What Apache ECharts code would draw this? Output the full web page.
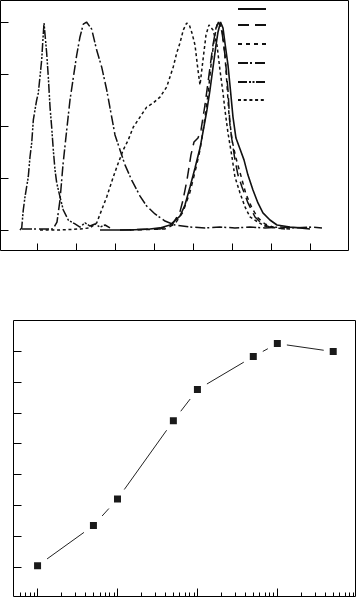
<!DOCTYPE html>
<html><head><meta charset="utf-8">
<script src="https://cdn.jsdelivr.net/npm/echarts@6/dist/echarts.min.js"></script>
<style>html,body{margin:0;padding:0;background:#fff}#c{width:357px;height:598px}</style>
</head><body><div id="c"></div>
<script>
// ---------- Top panel: normalized spectra (x = wavelength, y = normalized intensity) ----------
const specTicksX = [350, 400, 450, 500, 550, 600, 650, 700];
const specTicksY = [0, 0.25, 0.5, 0.75, 1];
const seriesNames = ['S1', 'S2', 'S3', 'S4', 'S5', 'S6'];

// solid
const curveSolid = [[430.8,0],[469.2,0],[494.9,0.005],[507.7,0.010],[520.5,0.024],[533.3,0.067],[539.7,0.120],[546.2,0.207],[552.6,0.298],[559.0,0.394],[562.8,0.471],[567.9,0.577],[571.8,0.673],[575.6,0.779],[579.5,0.889],[582.1,0.952],[585.3,1.0],[588.5,0.971],[591.0,0.899],[594.9,0.793],[597.4,0.697],[601.3,0.543],[605.1,0.442],[610.3,0.389],[615.4,0.337],[620.5,0.264],[626.9,0.192],[633.3,0.130],[639.7,0.082],[648.7,0.048],[657.7,0.024],[674.4,0.014],[687.2,0.010],[700.0,0.005]];
// long dash
const curveLongDash = [[456.4,0],[507.7,0.005],[523.1,0.024],[533.3,0.087],[537.2,0.144],[542.3,0.240],[547.4,0.361],[551.3,0.423],[556.4,0.442],[560.3,0.481],[565.4,0.601],[570.5,0.745],[575.6,0.889],[579.5,0.971],[582.7,1.0],[587.2,0.952],[591.0,0.841],[594.9,0.673],[597.4,0.505],[600.0,0.433],[603.8,0.337],[607.7,0.264],[612.8,0.207],[620.5,0.130],[629.5,0.0625],[638.5,0.029],[648.7,0.014],[667.9,0.005]];
// short dash
const curveShortDash = [[469.2,0],[514.1,0.005],[526.9,0.029],[537.2,0.087],[546.2,0.183],[553.8,0.298],[559.0,0.385],[564.1,0.505],[569.2,0.649],[573.1,0.793],[577.0,0.913],[580.8,0.986],[584.0,1.0],[587.2,0.962],[591.0,0.841],[593.6,0.697],[596.2,0.553],[600.0,0.433],[605.1,0.346],[611.5,0.260],[617.9,0.173],[625.6,0.106],[633.3,0.058],[642.3,0.029],[655.1,0.010],[674.4,0.005]];
// dash-dot (broad peak ~413)
const curveDashDot = [[330.8,0.005],[353.8,0.005],[370.5,0.005],[375.6,0.038],[379.5,0.144],[383.3,0.313],[388.1,0.481],[392.3,0.625],[396.5,0.731],[400.9,0.841],[405.1,0.928],[409.4,0.990],[413.5,1.0],[420.1,0.966],[426.5,0.865],[432.9,0.784],[439.4,0.673],[443.6,0.587],[450.0,0.457],[456.4,0.385],[462.8,0.313],[471.4,0.240],[482.1,0.163],[490.6,0.115],[501.3,0.077],[514.1,0.043],[526.9,0.024],[546.2,0.014],[565.4,0.010],[584.6,0.014],[603.8,0.010],[623.1,0.014],[642.3,0.010],[661.5,0.014],[681.0,0.010],[700.0,0.014],[715.4,0.010]];
// dash-dot-dot (narrow peak ~359)
const curveDashDotDot = [[328.2,0],[330.4,0.010],[332.4,0.096],[334.6,0.159],[338.8,0.255],[341.0,0.351],[343.2,0.418],[345.3,0.529],[347.4,0.577],[349.6,0.625],[351.7,0.659],[353.8,0.736],[356.0,0.817],[357.3,0.899],[359.0,0.995],[360.3,0.986],[362.4,0.851],[364.5,0.736],[366.7,0.591],[368.8,0.495],[370.9,0.385],[373.1,0.288],[375.3,0.226],[379.5,0.159],[383.7,0.096],[390.1,0.048],[398.7,0.029],[405.1,0.014],[411.5,0.034],[417.9,0.019],[424.4,0.029],[430.8,0.014],[437.2,0.024],[443.6,0.010]];
// dotted (shoulder ~490, peaks ~542 / ~570)
const curveDotted = [[353.8,0],[379.5,0],[405.1,0.005],[417.9,0.010],[426.5,0.034],[432.9,0.096],[439.4,0.159],[447.8,0.255],[454.2,0.322],[460.6,0.385],[467.0,0.433],[473.5,0.495],[482.1,0.543],[490.6,0.591],[499.1,0.611],[507.7,0.639],[516.3,0.688],[520.5,0.736],[524.7,0.784],[529.1,0.851],[533.3,0.899],[537.6,0.962],[541.9,0.995],[545.3,0.986],[548.7,0.947],[552.6,0.889],[556.4,0.769],[559.0,0.697],[562.8,0.817],[566.7,0.938],[570.5,0.986],[575.6,0.962],[580.8,0.889],[584.6,0.769],[588.5,0.659],[591.0,0.577],[594.9,0.466],[600.0,0.351],[603.8,0.255],[610.3,0.178],[616.7,0.111],[623.1,0.0625],[633.3,0.038],[642.3,0.019],[655.1,0.010]];

// ---------- Bottom panel: log x ----------
const doseX = [1, 5, 10, 50, 100, 500, 1000, 5000];
const respY = [0.5, 13.5, 22.1, 47.4, 57.5, 68.2, 72.4, 69.8];
const logMajorTicks = [1, 10, 100, 1000];
const logMinorTicks = [0.6,0.7,0.8,0.9,2,3,4,5,6,7,8,9,20,30,40,50,60,70,80,90,200,300,400,500,600,700,800,900,2000,3000,4000,5000,6000,7000,8000,9000];
const respTicksY = [0, 10, 20, 30, 40, 50, 60, 70];

const curves = [curveSolid, curveLongDash, curveShortDash, curveDashDot, curveDashDotDot, curveDotted];
const dashes = ['solid', [11, 6], [4, 4], [10, 2, 2, 3], [9, 2, 2, 1.5, 2, 1.5], [3, 2.7]];
const widths = [1.6, 1.5, 1.5, 1.5, 1.5, 1.5];
const legendTops = [6, 22, 41, 60, 79, 97];

const tickStyle = {color: '#000', width: 1};
const noLine = {show: false, onZero: false};

const chart = echarts.init(document.getElementById('c'), null, {renderer: 'canvas'});
const option = {
  animation: false,
  backgroundColor: '#fff',
  grid: [
    {left: 0.5, top: 0.5, right: 8.5, bottom: 347.5, show: true, borderColor: '#000', borderWidth: 1, containLabel: false},
    {left: 13.5, top: 320.5, right: 1.5, bottom: 1.5, show: true, borderColor: '#000', borderWidth: 1, containLabel: false}
  ],
  legend: legendTops.map((t, i) => ({
    data: [seriesNames[i]], left: 237, top: t, orient: 'vertical', padding: 0, itemGap: 0,
    itemWidth: 28, itemHeight: 6, selectedMode: false, formatter: () => '',
    itemStyle: {opacity: 0, color: 'transparent', borderWidth: 0},
    textStyle: {fontSize: 1}
  })),
  xAxis: [
    {gridIndex: 0, type: 'value', min: 303.2, max: 749.4, position: 'bottom', axisLine: noLine, splitLine: {show: false},
      axisLabel: {show: false}, axisTick: {show: true, inside: true, length: 7, customValues: specTicksX, lineStyle: tickStyle}},
    {gridIndex: 1, type: 'log', logBase: 10, min: 0.5, max: 9500, position: 'bottom', axisLine: noLine, splitLine: {show: false},
      axisLabel: {show: false}, axisTick: {show: true, inside: true, length: 8, customValues: logMajorTicks, lineStyle: tickStyle}},
    {gridIndex: 1, type: 'log', logBase: 10, min: 0.5, max: 9500, position: 'bottom', offset: 0, axisLine: noLine, splitLine: {show: false},
      axisLabel: {show: false}, axisTick: {show: true, inside: true, length: 4, customValues: logMinorTicks, lineStyle: tickStyle}}
  ],
  yAxis: [
    {gridIndex: 0, type: 'value', min: -0.0986, max: 1.1034, position: 'left', axisLine: noLine, splitLine: {show: false},
      axisLabel: {show: false}, axisTick: {show: true, inside: true, length: 8, customValues: specTicksY, lineStyle: tickStyle}},
    {gridIndex: 1, type: 'value', min: -9.45, max: 79.87, position: 'left', axisLine: noLine, splitLine: {show: false},
      axisLabel: {show: false}, axisTick: {show: true, inside: true, length: 8, customValues: respTicksY, lineStyle: tickStyle}}
  ],
  series: curves.map((c, i) => ({
    name: seriesNames[i], type: 'line', xAxisIndex: 0, yAxisIndex: 0, data: c,
    symbol: 'none', smooth: false,
    lineStyle: {color: '#111', width: widths[i], type: dashes[i]},
    itemStyle: {color: '#111'}
  })).concat([{
    name: 'resp', type: 'line', xAxisIndex: 1, yAxisIndex: 1,
    data: doseX.map((x, i) => [x, respY[i]]),
    symbol: 'rect', symbolSize: 13,
    itemStyle: {color: '#1a1a1a', borderColor: '#fff', borderWidth: 6},
    lineStyle: {color: '#222', width: 1}
  }])
};
chart.setOption(option);
</script></body></html>
